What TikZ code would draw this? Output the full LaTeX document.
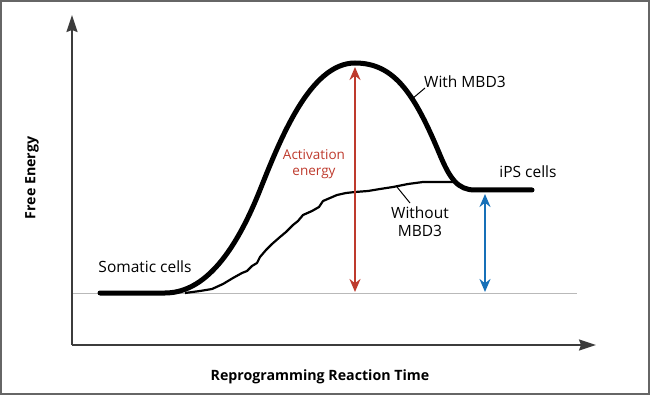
\documentclass[tikz,border=0pt]{standalone}
\usepackage{fontspec}
\setmainfont{Open Sans}
\usetikzlibrary{arrows.meta}

\definecolor{actred}{RGB}{190,58,45}
\definecolor{ipsblue}{RGB}{22,112,184}
\definecolor{axisgray}{RGB}{60,60,60}

\tikzstyle{axisline}=[draw=axisgray,
                      line width=1.8pt,
                      -{Stealth[length=17pt,width=11pt,inset=2pt]}]
\tikzstyle{withcurve}=[line width=5pt,
                       line cap=round]
\tikzstyle{withoutcurve}=[line width=2.2pt,
                          line join=round]
\tikzstyle{gaparrow}=[line width=2.6pt,
                      {Stealth[length=13pt,width=11pt]}-{Stealth[length=13pt,width=11pt]}]
\tikzstyle{lbl}=[font=\fontsize{15.5}{18}\selectfont,
                 inner sep=1pt,
                 align=center]
\tikzstyle{actlbl}=[font=\fontsize{13.5}{16}\selectfont,
                    text=actred,
                    inner sep=1pt,
                    align=center]
\tikzstyle{axislbl}=[font=\bfseries\fontsize{14.2}{17}\selectfont,
                     inner sep=1pt]

\begin{document}
\begin{tikzpicture}[x=1pt,y=-1pt]
    \useasboundingbox (0,0) rectangle (650,395);
    \draw [line width=1.5pt,draw=gray!80!black] (1,1) rectangle (649,394);

    \coordinate (origin) at (72,345);
    \coordinate (ytip) at (72,15);
    \coordinate (xtip) at (596,345);
    \coordinate (baseleft) at (72,293);
    \coordinate (baseright) at (577,293);
    \draw [gray!55, line width=1pt] (baseleft) -- (baseright);
    \draw [axisline] (origin) -- (ytip);
    \draw [axisline] (origin) -- (xtip);

    \draw [withoutcurve] (185,293) -- (200,291) -- (212,289) -- (223,284) -- (233,278)
        -- (242,273) -- (247,271) -- (252,266) -- (257,263) -- (260,257) -- (266,250)
        -- (272,244) -- (280,237) -- (286,232) -- (293,225) -- (298,221) -- (303,215)
        -- (312,211) -- (319,207) -- (323,201) -- (330,198) -- (337,195) -- (346,193)
        -- (355,192) -- (368,191) -- (380,189) -- (393,187) -- (408,184) -- (423,182)
        -- (440,182) -- (456,182);

    \draw [withcurve] (100,293) -- (165,293)
        .. controls (210,293) and (240,240) .. (260,190)
        .. controls (280,140) and (310,63) .. (355,63)
        .. controls (395,63) and (415,95) .. (440,155)
        .. controls (450,179) and (458,190) .. (475,190) -- (532,190);

    \coordinate (actbot) at (355,292);
    \coordinate (acttop) at (355,67);
    \draw [gaparrow,draw=actred,fill=actred] (actbot) -- (acttop);
    \coordinate (ipsbot) at (485,292);
    \coordinate (ipstop) at (485,194);
    \draw [gaparrow,draw=ipsblue,fill=ipsblue] (ipsbot) -- (ipstop);

    \node [lbl] (somatic) at (145,267) {Somatic cells};
    \node [lbl] (ips) at (528,172) {iPS cells};
    \node [lbl,anchor=west] (withlbl) at (423,82) {With MBD3};
    \node [lbl] (withoutlbl) at (420,222) {Without\\MBD3};
    \node [actlbl] (actlbl) at (314,164) {Activation\\energy};
    \node [axislbl,rotate=90] (ylbl) at (32,178) {Free Energy};
    \node [axislbl] (xlbl) at (320,377) {Reprogramming Reaction Time};

    \coordinate (withpt) at (412,99);
    \coordinate (withend) at (425,88);
    \coordinate (withoutpt) at (397,187);
    \coordinate (withoutend) at (410,203);
    \draw [line width=1pt] (withend) -- (withpt);
    \draw [line width=1pt] (withoutend) -- (withoutpt);
\end{tikzpicture}
\end{document}
